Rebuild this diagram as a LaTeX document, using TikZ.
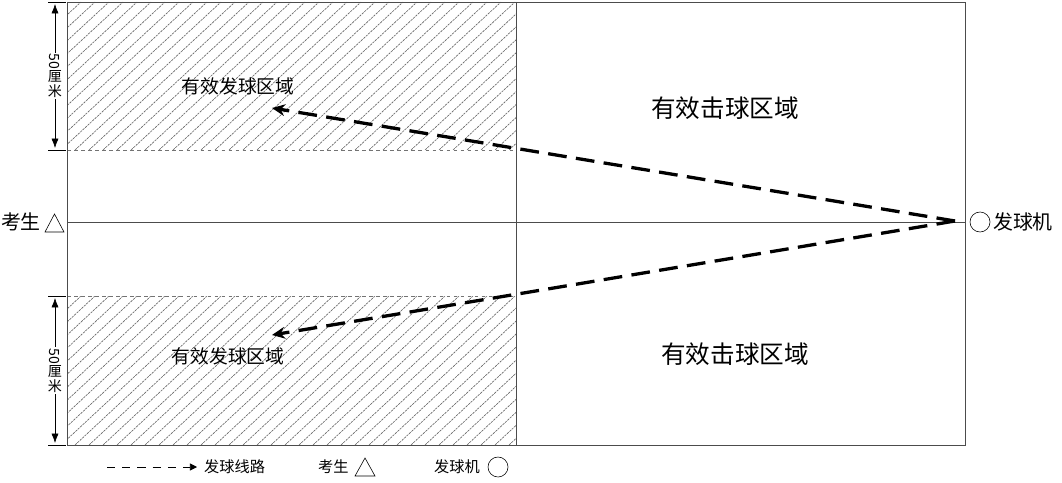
\documentclass[tikz,border=0pt]{standalone}
\usepackage{fontspec}
\setmainfont{Noto Sans CJK SC}
\usetikzlibrary{arrows.meta}
\tikzset{
  court/.style={draw=black!70, line width=0.6pt},
  hatch/.style={draw=black!60, line width=0.55pt, dash pattern=on 2pt off 0.8pt},
  zone border/.style={draw=black!55, line width=0.6pt, dashed},
  serve path/.style={line width=2.8pt, dash pattern=on 16pt off 8pt, arrows={-Stealth[length=11pt,width=10pt]}},
  big label/.style={font=\fontsize{21}{21}\selectfont},
  zone label/.style={font=\fontsize{16}{16}\selectfont},
  side label/.style={font=\fontsize{17}{17}\selectfont},
  legend label/.style={font=\fontsize{13}{13}\selectfont},
  dim/.style={line width=0.5pt, arrows={Latex[length=8pt,width=6pt]-Latex[length=8pt,width=6pt]}}
}
\begin{document}
\begin{tikzpicture}[x=0.03cm, y=-0.03cm]
  \useasboundingbox (0,0) rectangle (1062,483);
  % hatched serving zones
  \foreach \top/\bot in {2/150, 296/445} {
    \begin{scope}
      \clip (67,\top) rectangle (516,\bot);
      \foreach \i in {0,14,...,620} {
        \draw[hatch] (67+\i-160,\bot) -- (67+\i,\top);
      }
    \end{scope}
    \draw[zone border] (67,\top) -- (516,\top);
    \draw[zone border] (67,\bot) -- (516,\bot);
  }
  % court
  \draw[court] (67,2) rectangle (965,445);
  \draw[court] (516,2) -- (516,445);
  \draw[court] (67,222) -- (965,222);
  % dimension marks
  \foreach \top/\bot in {2/150, 296/445} {
    \draw[black, line width=0.5pt] (48,\top) -- (66,\top);
    \draw[black, line width=0.5pt] (48,\bot) -- (66,\bot);
    \draw[dim] (55,\top+2) -- (55,\bot-2);
    \node[fill=white, inner sep=1pt, align=center, font=\fontsize{12}{13}\selectfont]
      at (55,{(\top+\bot)/2}) {\rotatebox{-90}{50}\\厘\\米};
  }
  % labels
  \node[zone label] (upserve) at (238,86) {有效发球区域};
  \node[zone label] (lowserve) at (228,356) {有效发球区域};
  \node[big label] (uphit) at (725,108) {有效击球区域};
  \node[big label] (lowhit) at (735,354) {有效击球区域};
  % player and machine
  \node[side label, anchor=east] (player) at (45,222) {考生};
  \draw[black, line width=0.5pt] (45,232) -- (64,232) -- (54.5,214) -- cycle;
  \node[draw, circle, minimum size=0.6cm, inner sep=0pt, line width=0.5pt] (machine) at (980,222) {};
  \node[side label, anchor=west] (machinelabel) at (989,222) {发球机};
  % serve paths
  \coordinate (launch) at (955,221);
  \coordinate (uptarget) at (272,108);
  \coordinate (lowtarget) at (272,335);
  \draw[serve path] (launch) -- (uptarget);
  \draw[serve path] (launch) -- (lowtarget);
  % legend
  \coordinate (legstart) at (107,467);
  \coordinate (legend) at (197,467);
  \draw[line width=0.6pt, dash pattern=on 7pt off 6pt, arrows={-Triangle[length=6pt,width=6pt]}] (legstart) -- (legend);
  \node[legend label, anchor=west] (legpath) at (200,467) {发球线路};
  \node[legend label, anchor=west] (legplayer) at (314,467) {考生};
  \draw[black, line width=0.5pt] (355,476) -- (375,476) -- (365,458) -- cycle;
  \node[legend label, anchor=west] (legmachine) at (430,467) {发球机};
  \node[draw, circle, minimum size=0.6cm, inner sep=0pt, line width=0.5pt] (legcircle) at (498,467) {};
\end{tikzpicture}
\end{document}
